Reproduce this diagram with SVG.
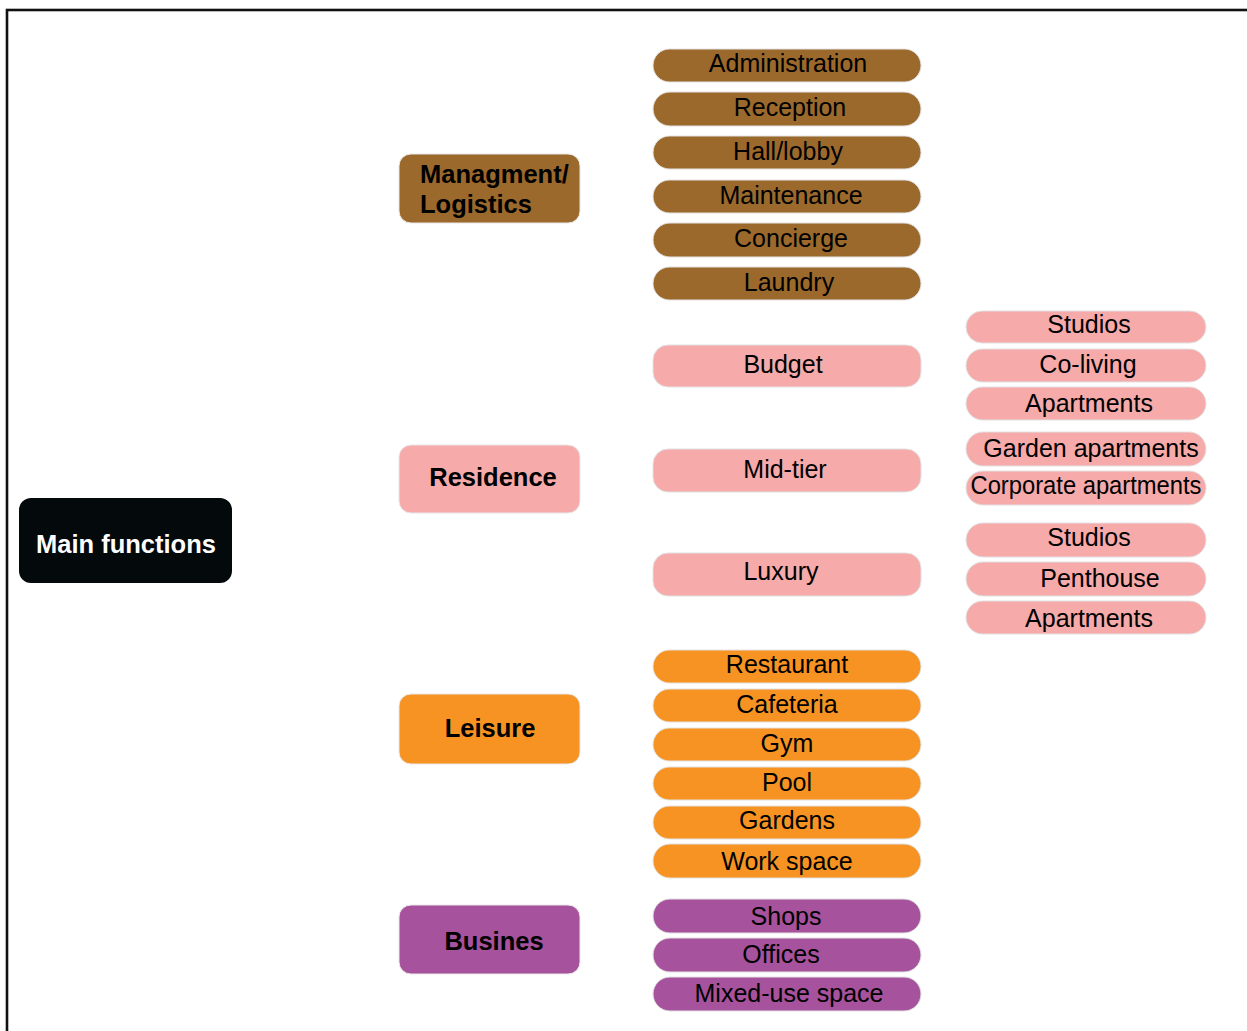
<svg xmlns="http://www.w3.org/2000/svg" width="1247" height="1031" viewBox="0 0 1247 1031">
  <style>
    text { font-family: "Liberation Sans", Arial, sans-serif; fill: #000; }
    .hub { font-size: 25.5px; font-weight: bold; }
    .item { font-size: 25px; text-anchor: middle; }
    .mid { text-anchor: middle; }
    .brown { fill: #9c692c; }
    .pink { fill: #f6aaaa; }
    .orange { fill: #f79322; }
    .purple { fill: #a6529c; }
    .cat { stroke: #e8e8e8; stroke-width: 1; }
    .pill { stroke: #e2e2e2; stroke-width: 1; }
  </style>

  <!-- page frame -->
  <rect x="7" y="10" width="1270" height="1050" fill="#fff" stroke="#111" stroke-width="2.6"/>

  <!-- no drawn connectors in this chart -->
  <g id="connectors"></g>

  <!-- root -->
  <g id="main-functions">
    <rect x="19" y="498" width="213" height="85" rx="12" fill="#04090b"/>
    <text x="126" y="553" class="hub mid" style="fill:#fff">Main functions</text>
  </g>

  <!-- categories -->
  <g id="management">
    <rect class="brown cat" x="399" y="154" width="181" height="69" rx="12"/>
    <text class="hub" x="420" y="183">Managment/</text>
    <text class="hub" x="420" y="213">Logistics</text>
  </g>
  <g id="residence">
    <rect class="pink cat" x="399" y="445" width="181" height="68" rx="12"/>
    <text class="hub mid" x="493" y="486">Residence</text>
  </g>
  <g id="leisure">
    <rect class="orange cat" x="399" y="694" width="181" height="70" rx="12"/>
    <text class="hub mid" x="490" y="737">Leisure</text>
  </g>
  <g id="business">
    <rect class="purple cat" x="399" y="905" width="181" height="69" rx="12"/>
    <text class="hub mid" x="494" y="950">Busines</text>
  </g>

  <!-- management items -->
  <g id="administration"><rect class="brown pill" x="653" y="49" width="268" height="33" rx="16.5"/><text class="item" x="788" y="72">Administration</text></g>
  <g id="reception"><rect class="brown pill" x="653" y="92" width="268" height="34" rx="17"/><text class="item" x="790" y="116">Reception</text></g>
  <g id="hall-lobby"><rect class="brown pill" x="653" y="136" width="268" height="33" rx="16.5"/><text class="item" x="788" y="160">Hall/lobby</text></g>
  <g id="maintenance"><rect class="brown pill" x="653" y="180" width="268" height="33" rx="16.5"/><text class="item" x="791" y="204">Maintenance</text></g>
  <g id="concierge"><rect class="brown pill" x="653" y="223" width="268" height="34" rx="17"/><text class="item" x="791" y="247">Concierge</text></g>
  <g id="laundry"><rect class="brown pill" x="653" y="267" width="268" height="33" rx="16.5"/><text class="item" x="789" y="291">Laundry</text></g>

  <!-- residence tiers -->
  <g id="budget"><rect class="pink pill" x="653" y="345" width="268" height="42" rx="15"/><text class="item" x="783" y="373">Budget</text></g>
  <g id="mid-tier"><rect class="pink pill" x="653" y="449" width="268" height="43" rx="15"/><text class="item" x="785" y="478">Mid-tier</text></g>
  <g id="luxury"><rect class="pink pill" x="653" y="553" width="268" height="43" rx="15"/><text class="item" x="781" y="580">Luxury</text></g>

  <!-- residence types -->
  <g id="studios-1"><rect class="pink pill" x="966" y="311" width="240" height="32" rx="16"/><text class="item" x="1089" y="333">Studios</text></g>
  <g id="co-living"><rect class="pink pill" x="966" y="349" width="240" height="33" rx="16.5"/><text class="item" x="1088" y="373">Co-living</text></g>
  <g id="apartments-1"><rect class="pink pill" x="966" y="387" width="240" height="33" rx="16.5"/><text class="item" x="1089" y="412">Apartments</text></g>
  <g id="garden-apartments"><rect class="pink pill" x="966" y="432" width="240" height="34" rx="17"/><text class="item" x="1091" y="457">Garden apartments</text></g>
  <g id="corporate-apartments"><rect class="pink pill" x="966" y="471" width="240" height="34" rx="17"/><text class="item" x="1086" y="494" textLength="231" lengthAdjust="spacingAndGlyphs">Corporate apartments</text></g>
  <g id="studios-2"><rect class="pink pill" x="966" y="523" width="240" height="34" rx="17"/><text class="item" x="1089" y="546">Studios</text></g>
  <g id="penthouse"><rect class="pink pill" x="966" y="562" width="240" height="34" rx="17"/><text class="item" x="1100" y="587">Penthouse</text></g>
  <g id="apartments-2"><rect class="pink pill" x="966" y="601" width="240" height="33" rx="16.5"/><text class="item" x="1089" y="627">Apartments</text></g>

  <!-- leisure items -->
  <g id="restaurant"><rect class="orange pill" x="653" y="650" width="268" height="33" rx="16.5"/><text class="item" x="787" y="673">Restaurant</text></g>
  <g id="cafeteria"><rect class="orange pill" x="653" y="689" width="268" height="33" rx="16.5"/><text class="item" x="787" y="713">Cafeteria</text></g>
  <g id="gym"><rect class="orange pill" x="653" y="728" width="268" height="33" rx="16.5"/><text class="item" x="787" y="752">Gym</text></g>
  <g id="pool"><rect class="orange pill" x="653" y="767" width="268" height="33" rx="16.5"/><text class="item" x="787" y="791">Pool</text></g>
  <g id="gardens"><rect class="orange pill" x="653" y="806" width="268" height="33" rx="16.5"/><text class="item" x="787" y="829">Gardens</text></g>
  <g id="work-space"><rect class="orange pill" x="653" y="844" width="268" height="34" rx="17"/><text class="item" x="787" y="870">Work space</text></g>

  <!-- business items -->
  <g id="shops"><rect class="purple pill" x="653" y="899" width="268" height="34" rx="17"/><text class="item" x="786" y="925">Shops</text></g>
  <g id="offices"><rect class="purple pill" x="653" y="938" width="268" height="34" rx="17"/><text class="item" x="781" y="963">Offices</text></g>
  <g id="mixed-use-space"><rect class="purple pill" x="653" y="977" width="268" height="34" rx="17"/><text class="item" x="789" y="1002">Mixed-use space</text></g>
</svg>
